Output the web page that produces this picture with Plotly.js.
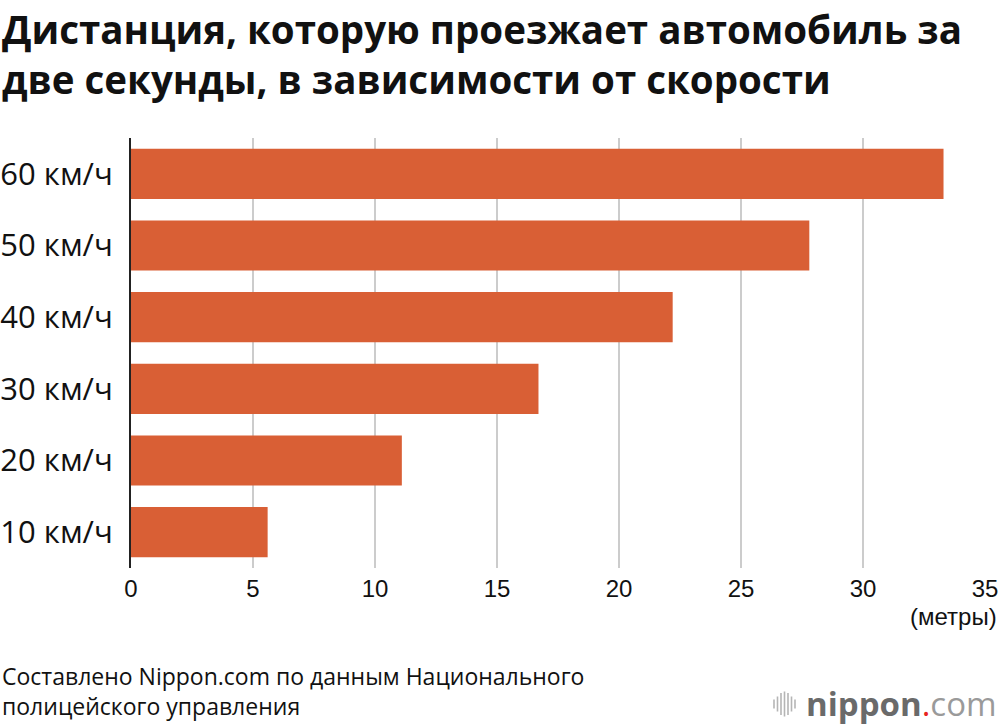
<!DOCTYPE html>
<html>
<head>
<meta charset="utf-8">
<script src="https://cdn.plot.ly/plotly-3.0.1.min.js"></script>
<style>html,body{margin:0;padding:0;background:#fff;}#chart{width:1000px;height:726px;}</style>
</head>
<body>
<div id="chart"></div>
<script>
const speeds = ['10 км/ч', '20 км/ч', '30 км/ч', '40 км/ч', '50 км/ч', '60 км/ч'];
const distances = [5.6, 11.1, 16.7, 22.2, 27.8, 33.3];
const xTicks = [0, 5, 10, 15, 20, 25, 30, 35];

const titleText = 'Дистанция, которую проезжает автомобиль за<br>две секунды, в зависимости от скорости';
const unitText = '(метры)';
const sourceText = 'Составлено Nippon.com по данным Национального<br>полицейского управления';

const W = 1000, H = 726;
const L = 131, R = 15, T = 138, B = 158;
const pw = W - L - R, ph = H - T - B;
const px = x => (x - L) / pw;
const py = y => (H - B - y) / ph;

// logo icon lines
const iconX = [774, 777.5, 781, 784.5, 788, 791.5, 795];
const iconH = [9, 15, 22, 25, 22, 15, 9];
const shapes = iconX.map((x, i) => ({
  type: 'line', xref: 'paper', yref: 'paper',
  x0: px(x), x1: px(x), y0: py(704 - iconH[i] / 2), y1: py(704 + iconH[i] / 2),
  line: {color: '#b5b5b5', width: 1.6}
}));

const data = [{
  type: 'bar', orientation: 'h',
  x: distances, y: speeds,
  marker: {color: '#D95F35'},
  hoverinfo: 'x+y'
}];

const layout = {
  width: W, height: H,
  margin: {l: L, r: R, t: T, b: B},
  paper_bgcolor: '#fff', plot_bgcolor: '#fff',
  bargap: 0.30,
  showlegend: false,
  xaxis: {
    range: [0, 35], tickvals: xTicks, ticktext: xTicks.map(String),
    showgrid: true, gridcolor: '#cccccc', gridwidth: 2,
    zeroline: false, showline: false, ticks: '',
    ticklabelstandoff: 4,
    tickfont: {family: 'Liberation Sans', size: 24, color: '#111'},
    fixedrange: true
  },
  yaxis: {
    type: 'category',
    showline: true, linecolor: '#222', linewidth: 2,
    showgrid: false, zeroline: false, ticks: '',
    ticklabelstandoff: 10,
    tickfont: {family: 'Open Sans', size: 31, color: '#111'},
    fixedrange: true
  },
  shapes: shapes,
  annotations: [
    {
      text: titleText, xref: 'paper', yref: 'paper', align: 'left',
      x: px(0), y: py(1), xanchor: 'left', yanchor: 'top',
      showarrow: false,
      font: {family: 'Open Sans', size: 38.5, color: '#111', weight: 700}
    },
    {
      text: unitText, xref: 'paper', yref: 'paper',
      x: px(999), y: py(616), xanchor: 'right', yanchor: 'middle',
      showarrow: false, font: {family: 'Liberation Sans', size: 24, color: '#111'}
    },
    {
      text: sourceText, xref: 'paper', yref: 'paper', align: 'left',
      x: px(0), y: py(691), xanchor: 'left', yanchor: 'middle',
      showarrow: false, font: {family: 'Open Sans', size: 23, color: '#111'}
    },
    {
      text: "<b>nippon</b><span style='color:#e8251f'>.</span><span style='color:#9a9a9a'>com</span>",
      xref: 'paper', yref: 'paper',
      x: px(999), y: py(703), xanchor: 'right', yanchor: 'middle',
      showarrow: false, font: {family: 'Open Sans', size: 33, color: '#6a6a6a'}
    }
  ]
};

Plotly.newPlot('chart', data, layout, {displayModeBar: false, staticPlot: true});
</script>
</body>
</html>
